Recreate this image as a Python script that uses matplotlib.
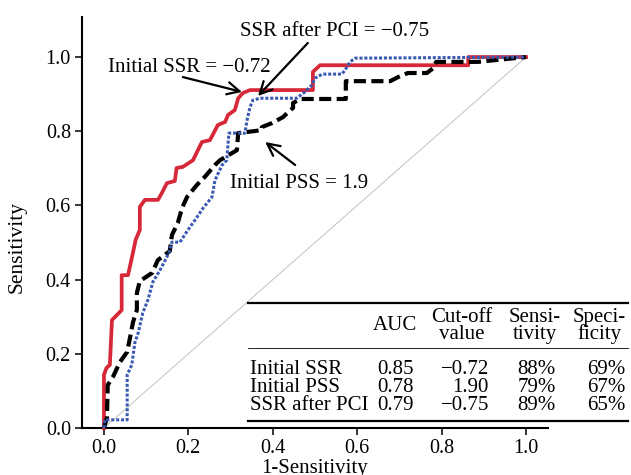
import matplotlib
matplotlib.use('Agg')
import matplotlib.pyplot as plt
from matplotlib.lines import Line2D

plt.rcParams['font.family'] = ['Liberation Serif', 'DejaVu Serif']
plt.rcParams['axes.unicode_minus'] = True

# ROC curves (1-specificity, sensitivity)
ssr_fpr = [0, 0, 0.006, 0.014, 0.019, 0.031, 0.042, 0.042, 0.057, 0.069, 0.075, 0.085, 0.085,
           0.097, 0.128, 0.137, 0.149, 0.168, 0.172, 0.187, 0.211, 0.232, 0.251, 0.270, 0.287,
           0.294, 0.310, 0.318, 0.329, 0.346, 0.495, 0.495, 0.512, 0.863, 0.863, 1.0]
ssr_tpr = [0, 0.143, 0.162, 0.170, 0.291, 0.305, 0.318, 0.412, 0.412, 0.474, 0.507, 0.534, 0.596,
           0.615, 0.615, 0.633, 0.660, 0.666, 0.701, 0.704, 0.722, 0.771, 0.776, 0.817, 0.825,
           0.844, 0.857, 0.889, 0.903, 0.911, 0.911, 0.960, 0.978, 0.978, 1.0, 1.0]

pss_fpr = [0, 0.007, 0.009, 0.021, 0.038, 0.055, 0.062, 0.069, 0.078, 0.078, 0.085, 0.114, 0.128,
           0.156, 0.161, 0.175, 0.185, 0.197, 0.220, 0.239, 0.263, 0.275, 0.287, 0.315, 0.318,
           0.339, 0.374, 0.374, 0.398, 0.424, 0.448, 0.448, 0.464, 0.573, 0.573, 0.678, 0.697,
           0.720, 0.765, 0.780, 0.787, 0.886, 0.955, 1.0]
pss_tpr = [0, 0.027, 0.116, 0.137, 0.178, 0.205, 0.245, 0.286, 0.318, 0.364, 0.396, 0.418, 0.453,
           0.477, 0.520, 0.553, 0.593, 0.623, 0.655, 0.677, 0.709, 0.722, 0.730, 0.749, 0.795,
           0.798, 0.803, 0.811, 0.822, 0.838, 0.863, 0.876, 0.887, 0.887, 0.935, 0.935, 0.946,
           0.957, 0.957, 0.970, 0.987, 0.987, 0.995, 1.0]

pci_fpr = [0, 0.002, 0.055, 0.055, 0.066, 0.073, 0.081, 0.092, 0.104, 0.116, 0.133, 0.149, 0.156,
           0.161, 0.180, 0.199, 0.216, 0.235, 0.256, 0.263, 0.280, 0.291, 0.296, 0.334, 0.339,
           0.346, 0.353, 0.370, 0.457, 0.476, 0.493, 0.500, 0.517, 0.564, 0.571, 0.583, 0.595, 1.0]
pci_tpr = [0, 0.022, 0.022, 0.143, 0.170, 0.229, 0.256, 0.310, 0.345, 0.394, 0.426, 0.461, 0.480,
           0.501, 0.501, 0.534, 0.561, 0.593, 0.623, 0.668, 0.709, 0.722, 0.795, 0.795, 0.830,
           0.865, 0.884, 0.889, 0.889, 0.906, 0.925, 0.943, 0.954, 0.954, 0.965, 0.987, 0.997, 1.0]

# table
col_headers = ['AUC', 'Cut-off\nvalue', 'Sensi-\ntivity', 'Speci-\nficity']
row_names = ['Initial SSR', 'Initial PSS', 'SSR after PCI']
auc = ['0.85', '0.78', '0.79']
cutoff = ['\u22120.72', '1.90', '\u22120.75']
sens = ['88%', '79%', '89%']
spec = ['69%', '67%', '65%']

W, H = 631, 475
fig = plt.figure(figsize=(W / 100, H / 100), dpi=100)
ax = fig.add_axes([82 / W, 1 - 428 / H, (548 - 82) / W, (428 - 17) / H])

ax.plot([0, 1], [0, 1], color='#c8c8c8', lw=0.8, zorder=1)
ax.plot(ssr_fpr, ssr_tpr, color='#d62839', lw=2.7, zorder=3, clip_on=False)
ax.plot(pss_fpr, pss_tpr, color='black', lw=3.0, dashes=(2.9, 1.3), zorder=4, clip_on=False)
ax.plot(pci_fpr, pci_tpr, color='#3a59b2', lw=2.2, dashes=(1, 0.6), zorder=5, clip_on=False)

ax.set_xlim(-0.052, 1.052)
ax.set_ylim(0, 1.108)
ax.set_xticks([0, 0.2, 0.4, 0.6, 0.8, 1.0])
ax.set_yticks([0, 0.2, 0.4, 0.6, 0.8, 1.0])
ax.xaxis.set_major_formatter(plt.FormatStrFormatter('%.1f'))
ax.yaxis.set_major_formatter(plt.FormatStrFormatter('%.1f'))
for s in ['top', 'right']:
    ax.spines[s].set_visible(False)
for s in ['left', 'bottom']:
    ax.spines[s].set_linewidth(1.5)
ax.tick_params(direction='out', length=5, width=1.1, labelsize=14.5, pad=3)
ax.set_xlabel('1-Sensitivity', fontsize=15, labelpad=1)
ax.set_ylabel('Sensitivity', fontsize=15.5)
ax.yaxis.set_label_coords(-0.118, 0.44)

# annotations
arrow = dict(arrowstyle='->', lw=1.6, color='black', mutation_scale=22, shrinkA=0, shrinkB=0)
ax.text(0.009, 0.960, 'Initial SSR = \u22120.72', fontsize=15)
ax.annotate('', xy=(0.327, 0.906), xytext=(0.187, 0.946), arrowprops=arrow)
ax.text(0.322, 1.057, 'SSR after PCI = \u22120.75', fontsize=15, clip_on=False)
ax.annotate('', xy=(0.365, 0.895), xytext=(0.483, 1.038), arrowprops=arrow)
ax.text(0.299, 0.647, 'Initial PSS = 1.9', fontsize=15)
ax.annotate('', xy=(0.382, 0.771), xytext=(0.453, 0.709), arrowprops=arrow)


# table drawn in figure pixels (y from top)
def px(x, y):
    return x / W, 1 - y / H


def rule(y, lw):
    x0, y0 = px(248, y)
    x1, _ = px(628, y)
    fig.add_artist(Line2D([x0, x1], [y0, y0], color='black', lw=lw, transform=fig.transFigure))


rule(303, 1.6)
rule(348, 0.6)
rule(421, 1.6)

fs = 15
hdr_x = [395, 462, 535, 599]
for hx, h in zip(hdr_x, col_headers):
    fig.text(*px(hx, 326), h, ha='center', va='center', fontsize=fs,
             linespacing=0.8, multialignment='center')

row_y = [374, 392, 410]
for i, ry in enumerate(row_y):
    fig.text(*px(250, ry), row_names[i], ha='left', va='baseline', fontsize=fs)
    fig.text(*px(414, ry), auc[i], ha='right', va='baseline', fontsize=fs)
    fig.text(*px(489, ry), cutoff[i], ha='right', va='baseline', fontsize=fs)
    fig.text(*px(556, ry), sens[i], ha='right', va='baseline', fontsize=fs)
    fig.text(*px(625, ry), spec[i], ha='right', va='baseline', fontsize=fs)

fig.savefig('out.png', dpi=100)
